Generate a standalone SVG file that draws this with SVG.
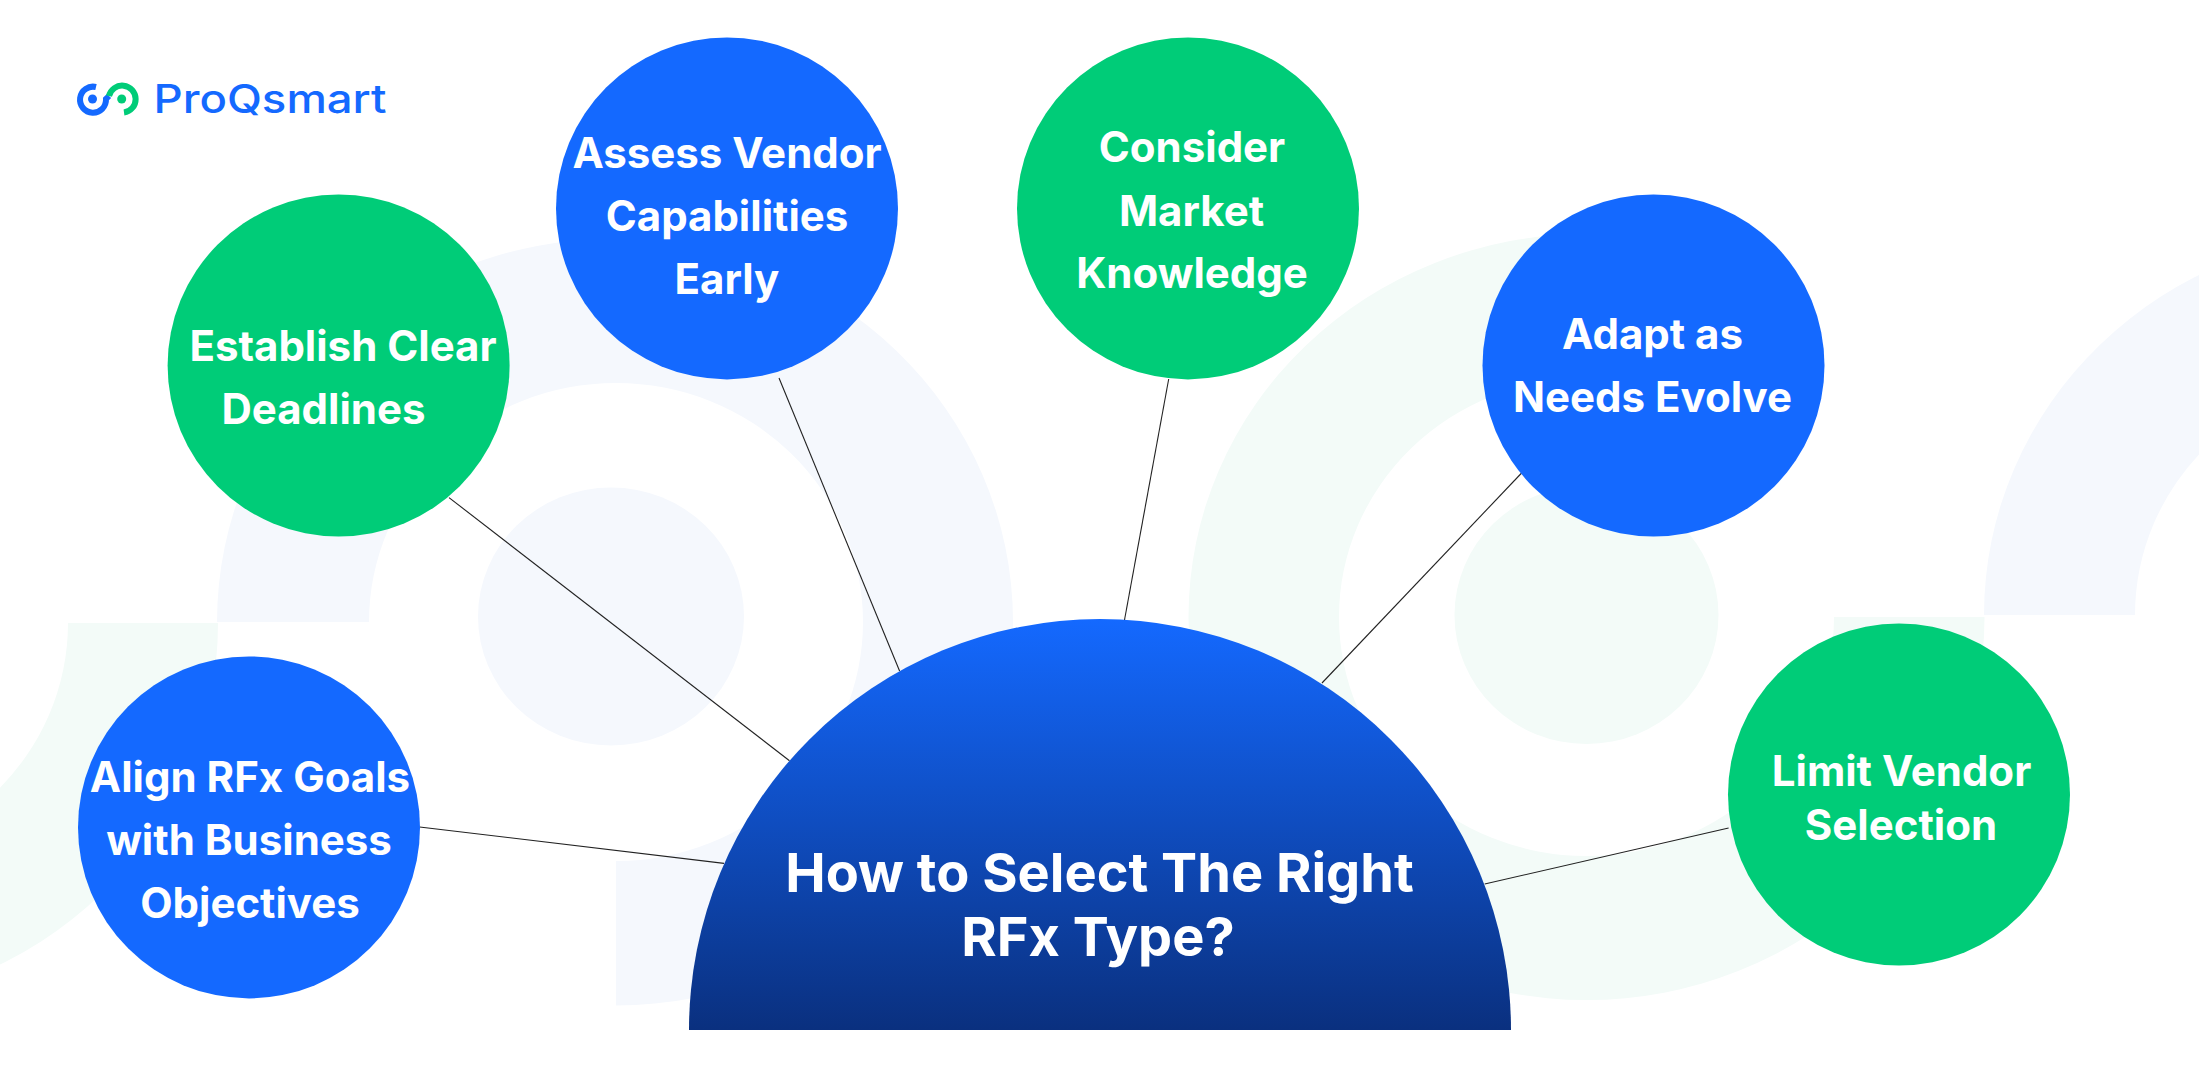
<svg xmlns="http://www.w3.org/2000/svg" width="2199" height="1080" viewBox="0 0 2199 1080">
<style>
.bb{fill:#f5f8fd}.bg{fill:#f3fbf8}
.n{font-family:"Inter","Liberation Sans",sans-serif;font-weight:700;font-size:42px;fill:#fff;text-anchor:middle}
.t{font-family:"Inter","Liberation Sans",sans-serif;font-weight:700;font-size:54.1px;fill:#fff;text-anchor:middle}
.blue{fill:#1469ff}.green{fill:#00cc78}
.c line{stroke:#222;stroke-width:1.1}
</style>
<defs><linearGradient id="hg" x1="0" y1="0" x2="0" y2="1"><stop offset="0" stop-color="#1469ff"/><stop offset="1" stop-color="#0a307f"/></linearGradient></defs>
<rect width="2199" height="1080" fill="#fff"/>
<g id="background">
<path class="bg" d="M68,623H218A398,383 0 0 1 -180,1006V862A247,239 0 0 0 68,623Z"/>
<path class="bb" d="M217,622A398,383.5 0 1 1 616,1005.5V861A247,239 0 1 0 369,622Z"/>
<ellipse class="bb" cx="611" cy="616.5" rx="133" ry="129"/>
<path class="bg" d="M1586.5,234A398,383 0 1 0 1984.5,617H1834A247.5,239 0 1 1 1586.5,378Z"/>
<ellipse class="bg" cx="1586.5" cy="615" rx="132" ry="129"/>
<path class="bb" d="M1984,615A398,383 0 0 1 2382,232V376A247,239 0 0 0 2135,615Z"/>
</g>
<g id="logo">
<path d="M96,87A13,13 0 1 0 106,99L109,96" fill="none" stroke="#1469ff" stroke-width="6"/>
<circle cx="92.5" cy="99" r="4.5" fill="#1469ff"/>
<path d="M109,96A13.5,13.5 0 1 1 124,112.5" fill="none" stroke="#00cc78" stroke-width="6"/>
<circle cx="121.7" cy="99" r="4.5" fill="#00cc78"/>
<text x="153.5" y="113" font-family="Inter,'Liberation Sans',sans-serif" font-weight="500" font-size="39" fill="#1469ff" textLength="233" lengthAdjust="spacingAndGlyphs">ProQsmart</text>
</g>
<g id="connectors" class="c">
<line x1="419.6" y1="827" x2="724" y2="863.4"/>
<line x1="449" y1="497.6" x2="789.5" y2="760.7"/>
<line x1="779" y1="378" x2="899.6" y2="671"/>
<line x1="1168.7" y1="379" x2="1124.5" y2="620"/>
<line x1="1525.4" y1="469" x2="1322" y2="683"/>
<line x1="1728.6" y1="828" x2="1484.7" y2="884"/>
</g>
<g id="hub">
<path d="M689,1030A411,411 0 0 1 1511,1030Z" fill="url(#hg)"/>
<text class="t" x="1099.5" y="892">How to Select The Right</text>
<text class="t" x="1098" y="955.5">RFx Type?</text>
</g>
<g id="n-align"><circle class="blue" cx="249" cy="827.4" r="171"/>
<text class="n" x="250" y="792">Align RFx Goals</text><text class="n" x="249" y="854.5">with Business</text><text class="n" x="250" y="917.5">Objectives</text></g>
<g id="n-establish"><circle class="green" cx="338.6" cy="365.5" r="171"/>
<text class="n" x="343" y="361">Establish Clear</text><text class="n" x="323.5" y="424">Deadlines</text></g>
<g id="n-assess"><circle class="blue" cx="727" cy="208.4" r="171"/>
<text class="n" x="727" y="168">Assess Vendor</text><text class="n" x="727" y="231">Capabilities</text><text class="n" x="727" y="294">Early</text></g>
<g id="n-consider"><circle class="green" cx="1188" cy="208.4" r="171"/>
<text class="n" x="1192" y="162">Consider</text><text class="n" x="1191.5" y="225.5">Market</text><text class="n" x="1192" y="288">Knowledge</text></g>
<g id="n-adapt"><circle class="blue" cx="1653.5" cy="365.5" r="171"/>
<text class="n" x="1652.5" y="349">Adapt as</text><text class="n" x="1652.5" y="412">Needs Evolve</text></g>
<g id="n-limit"><circle class="green" cx="1899" cy="794.5" r="171"/>
<text class="n" x="1901.5" y="785.5">Limit Vendor</text><text class="n" x="1901" y="839.5">Selection</text></g>
</svg>
